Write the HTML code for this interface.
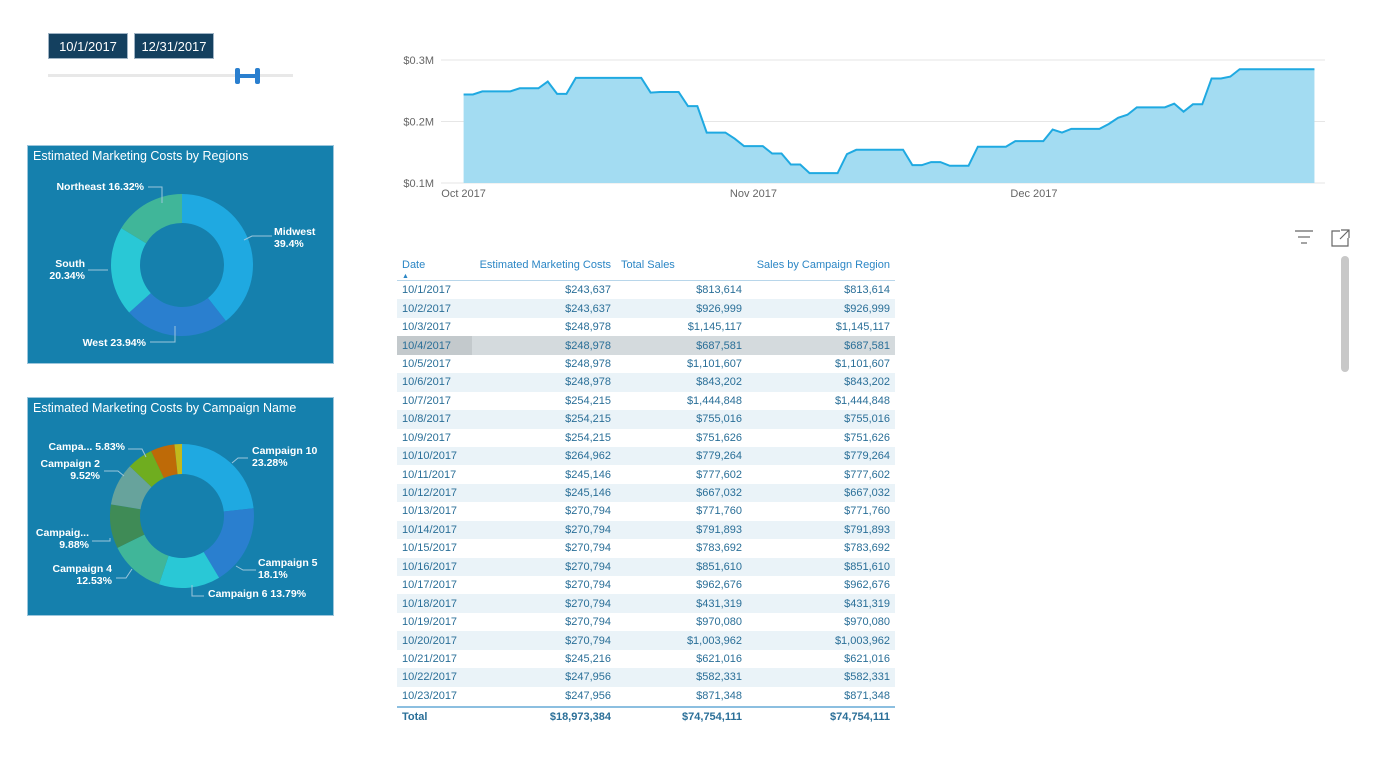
<!DOCTYPE html>
<html><head><meta charset="utf-8"><style>
body{margin:0;width:1377px;height:766px;background:#fff;font-family:"Liberation Sans",sans-serif;position:relative;overflow:hidden}
.abs{position:absolute}
.datebox{position:absolute;top:33px;height:26px;background:#14405f;border:1px solid #9fb3c4;color:#fff;font-size:13px;line-height:26px;text-align:center;box-sizing:border-box}
.panel{position:absolute;left:27px;width:307px;background:#1580ad;border:1px solid #9cc6dc;box-sizing:border-box}
.ptitle{position:absolute;left:5px;top:3px;color:#fff;font-size:12.5px}
table{border-collapse:collapse;font-size:11px;color:#2a6f98;table-layout:fixed}
td{height:18.45px;padding:0 5px;text-align:right;white-space:nowrap;line-height:18px;overflow:hidden}
td:first-child{text-align:left}
tr.r{height:18.45px}
</style></head><body>
<div class="datebox" style="left:48px;width:80px">10/1/2017</div>
<div class="datebox" style="left:134px;width:80px">12/31/2017</div>
<div class="abs" style="left:48px;top:74px;width:245px;height:3px;background:#e8e8e8"></div>
<div class="abs" style="left:235px;top:68px;width:27px;height:16px">
<div class="abs" style="left:0;top:0;width:5px;height:16px;background:#2a7fcf;border-radius:2px"></div>
<div class="abs" style="left:20px;top:0;width:5px;height:16px;background:#2a7fcf;border-radius:2px"></div>
<div class="abs" style="left:3px;top:6px;width:20px;height:4px;background:#2a7fcf"></div></div>

<div class="panel" style="top:145px;height:219px">
<div class="ptitle">Estimated Marketing Costs by Regions</div>
<svg id="donut1" class="abs" style="left:0;top:0" width="307" height="219"></svg></div>
<div class="panel" style="top:397px;height:219px">
<div class="ptitle">Estimated Marketing Costs by Campaign Name</div>
<svg id="donut2" class="abs" style="left:0;top:0" width="307" height="219"></svg></div>

<svg id="line" class="abs" style="left:390px;top:40px" width="950" height="170"></svg>

<svg class="abs" style="left:1293px;top:228px" width="60" height="20">
<g stroke="#666" stroke-width="1.2"><line x1="2" y1="3" x2="20" y2="3"/><line x1="5" y1="9" x2="17" y2="9"/><line x1="8" y1="15" x2="14" y2="15"/></g>
<g stroke="#666" stroke-width="1.2" fill="none"><path d="M47 3 H39 V18 H55 V10"/><path d="M48 2 H56 V10 M56 2 L47 11"/></g></svg>
<div class="abs" style="left:1341px;top:256px;width:8px;height:116px;background:#c8c8c8;border-radius:4px"></div>

<div class="abs" style="left:397px;top:255px;width:498px">
<table style="width:498px" id="tbl">
<colgroup><col style="width:75px"><col style="width:144px"><col style="width:131px"><col style="width:148px"></colgroup>
<tr style="color:#2b86c5;border-bottom:1px solid #b8d6ea"><td style="vertical-align:top;height:25px;line-height:20px">Date<div style="font-size:7px;line-height:4px">&#9650;</div></td><td style="vertical-align:top;line-height:20px">Estimated Marketing Costs</td><td style="vertical-align:top;text-align:left;line-height:20px">Total Sales</td><td style="vertical-align:top;line-height:20px">Sales by Campaign Region</td></tr>
</table>
<table style="width:498px;font-weight:bold;margin-top:1px;border-top:2px solid #8cbfe0"><colgroup><col style="width:75px"><col style="width:144px"><col style="width:131px"><col style="width:148px"></colgroup><tr><td style="height:17px">Total</td><td>$18,973,384</td><td>$74,754,111</td><td>$74,754,111</td></tr></table>
</div>

<script>
const NS='http://www.w3.org/2000/svg';
function mk(p,t,a){const e=document.createElementNS(NS,t);for(const k in a)e.setAttribute(k,a[k]);p.appendChild(e);return e;}
const tDates=['10/1/2017','10/2/2017','10/3/2017','10/4/2017','10/5/2017','10/6/2017','10/7/2017','10/8/2017','10/9/2017','10/10/2017','10/11/2017','10/12/2017','10/13/2017','10/14/2017','10/15/2017','10/16/2017','10/17/2017','10/18/2017','10/19/2017','10/20/2017','10/21/2017','10/22/2017','10/23/2017'];
const tCosts=['$243,637','$243,637','$248,978','$248,978','$248,978','$248,978','$254,215','$254,215','$254,215','$264,962','$245,146','$245,146','$270,794','$270,794','$270,794','$270,794','$270,794','$270,794','$270,794','$270,794','$245,216','$247,956','$247,956'];
const tSales=['$813,614','$926,999','$1,145,117','$687,581','$1,101,607','$843,202','$1,444,848','$755,016','$751,626','$779,264','$777,602','$667,032','$771,760','$791,893','$783,692','$851,610','$962,676','$431,319','$970,080','$1,003,962','$621,016','$582,331','$871,348'];
const tbl=document.getElementById('tbl');
tDates.forEach((d,i)=>{const tr=document.createElement('tr');


tr.className='r';
if(i==3)tr.style.background='#d4dadd';else if(i%2==1)tr.style.background='#eaf3f8';
tr.innerHTML='<td'+(i==3?' style="background:#c3c9cc"':'')+'>'+d+'</td><td>'+tCosts[i]+'</td><td>'+tSales[i]+'</td><td>'+tSales[i]+'</td>';
tbl.appendChild(tr);});

const yTicks=[0.1,0.2,0.3], yTickLabels=['$0.1M','$0.2M','$0.3M'];
const xTickDays=[0,31,61], xTickLabels=['Oct 2017','Nov 2017','Dec 2017'];
const costs=[244,244,249,249,249,249,254,254,254,265,245,245,271,271,271,271,271,271,271,271,247,248,248,248,225,225,182,182,182,172,160,160,160,148,148,130,130,116,116,116,116,147,154,154,154,154,154,154,129,129,134,134,128,128,128,159,159,159,159,168,168,168,168,187,182,188,188,188,188,196,206,211,223,223,223,223,229,216,228,228,270,270,273,285,285,285,285,285,285,285,285,285];
const L=document.getElementById('line');
const X=d=>73.6+9.35*d, Y=v=>143-(v-0.1)*615;
yTicks.forEach((t,i)=>{const g=mk(L,'line',{x1:51,x2:935,y1:Y(t),y2:Y(t),stroke:'#e6e6e6'});


const tx=mk(L,'text',{x:44,y:Y(t)+4,'text-anchor':'end','font-size':11,fill:'#666'});tx.textContent=yTickLabels[i];

});
xTickDays.forEach((d,i)=>{const tx=mk(L,'text',{x:X(d),y:157,'text-anchor':'middle','font-size':11,fill:'#666'});tx.textContent=xTickLabels[i];

});
let pts=costs.map((v,i)=>X(i)+','+Y(v/1000)).join(' ');
const ar=mk(L,'polygon',{points:X(0)+','+Y(0.1)+' '+pts+' '+X(costs.length-1)+','+Y(0.1),fill:'#a3dcf2'});


const ln=mk(L,'polyline',{points:pts,fill:'none',stroke:'#1fa9e1','stroke-width':2});



const regNames=['Midwest','West','South','Northeast'];
const regVals=[39.4,23.94,20.34,16.32];
const regColors=['#1fa9e1','#2a7fcf','#29c8d6','#40b699'];
const campNames=['Campaign 10','Campaign 5','Campaign 6','Campaign 4','Campaig...','Campaign 2','Campa...','Other A','Other B'];
const campVals=[23.28,18.1,13.79,12.53,9.88,9.52,5.83,5.4,1.67];
const campColors=['#1fa9e1','#2a7fcf','#29c8d6','#40b699','#3f8b56','#67a39c','#6fad1f','#be6a07','#c2b91c'];
function donut(svg,vals,colors,names,cx,cy,R,r,nm){
 const tot=vals.reduce((a,b)=>a+b,0);let a0=0;
 vals.forEach((v,i)=>{const a1=a0+v/tot*2*Math.PI;
  const p=(a,rr)=>[cx+rr*Math.sin(a),cy-rr*Math.cos(a)];const lg=(a1-a0)>Math.PI?1:0;
  const [x1,y1]=p(a0,R),[x2,y2]=p(a1,R),[x3,y3]=p(a1,r),[x4,y4]=p(a0,r);
  const e=mk(svg,'path',{d:`M${x1} ${y1}A${R} ${R} 0 ${lg} 1 ${x2} ${y2}L${x3} ${y3}A${r} ${r} 0 ${lg} 0 ${x4} ${y4}Z`,fill:colors[i]});
  
  
  a0=a1;});
}
function lbl(svg,lines,x,y,anchor,lx1,ly1,lx2,ly2,lx3){
 mk(svg,'polyline',{points:`${lx1},${ly1} ${lx2},${ly2} ${lx3},${ly2}`,fill:'none',stroke:'#9cc6dc','stroke-width':1});
 lines.forEach((t,i)=>{const tx=mk(svg,'text',{x:x,y:y+i*12,'text-anchor':anchor,'font-size':10.5,'font-weight':'bold',fill:'#fff'});tx.textContent=t;
 
 });
}
const d1=document.getElementById('donut1');
donut(d1,regVals,regColors,regNames,154,119,71,42,'region');
lbl(d1,['Midwest',regVals[0]+'%'],246,89,'start',216,94,224,90,244);
lbl(d1,['West '+regVals[1]+'%'],118,200,'end',147,180,147,196,122);
lbl(d1,['South',regVals[2]+'%'],57,121,'end',80,124,80,124,60);
lbl(d1,['Northeast '+regVals[3]+'%'],116,44,'end',134,57,134,41,120);
const d2=document.getElementById('donut2');
donut(d2,campVals,campColors,campNames,154,118,72,42,'campaign');
lbl(d2,['Campaign 10',campVals[0]+'%'],224,56,'start',204,65,210,60,220);
lbl(d2,['Campaign 5',campVals[1]+'%'],230,168,'start',208,168,215,172,228);
lbl(d2,['Campaign 6 '+campVals[2]+'%'],180,199,'start',164,187,164,198,176);
lbl(d2,['Campaign 4',campVals[3]+'%'],84,174,'end',104,171,98,180,88);
lbl(d2,['Campaig...',campVals[4]+'%'],61,138,'end',82,140,82,143,64);
lbl(d2,['Campaign 2',campVals[5]+'%'],72,69,'end',96,78,90,73,76);
lbl(d2,['Campa... '+campVals[6]+'%'],97,52,'end',118,59,114,51,100);
</script>
</body></html>
